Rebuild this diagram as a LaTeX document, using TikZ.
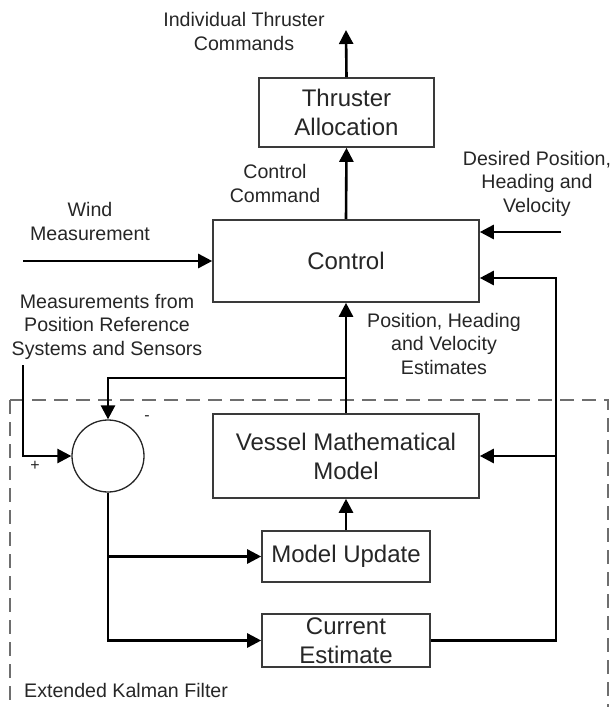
\documentclass[tikz,border=0pt]{standalone}
\usepackage{fontspec}
\setmainfont{Liberation Sans}
\usetikzlibrary{arrows.meta}
\definecolor{ink}{HTML}{262626}
\definecolor{frame}{HTML}{3A3A3A}
\definecolor{ekf}{HTML}{6E6E6E}
\tikzset{
  blockbox/.style={draw=frame, line width=1.6pt, fill=white, text=ink, align=center,
    inner sep=0pt, font=\fontsize{24}{29}\selectfont},
  sumnode/.style={draw=ink, line width=1.3pt, circle, minimum size=72pt, inner sep=0pt},
  label/.style={text=ink, align=center, inner sep=0pt, font=\fontsize{19.6}{23.5}\selectfont},
  sign/.style={text=ink, inner sep=0pt, font=\fontsize{16}{18}\selectfont},
  flow/.style={line width=2.6pt, draw=black},
  arr/.style={flow, -{Triangle[length=14pt,width=14pt]}},
  ekfbox/.style={draw=ekf, line width=1.5pt, dash pattern=on 14pt off 8pt}
}
\begin{document}
\begin{tikzpicture}[x=1pt, y=-1pt]
  \useasboundingbox (0,0) rectangle (611,707);
  \clip (0,0) rectangle (611,707);

  % Kalman filter region
  \draw[ekfbox] (10,400) -- (608,400) -- (608,730);
  \draw[ekfbox] (10,400) -- (10,730);
  \node[label, anchor=west] (ekflabel) at (24,690) {Extended Kalman Filter};

  % blocks
  \node[blockbox, minimum width=175pt, minimum height=69pt] (thr) at (346.5,112.5) {Thruster\\Allocation};
  \node[blockbox, minimum width=266pt, minimum height=82pt] (ctrl) at (346,261) {Control};
  \node[blockbox, minimum width=266pt, minimum height=84pt] (vmm) at (346,456) {Vessel Mathematical\\Model};
  \node[blockbox, minimum width=168pt, minimum height=51pt] (mu) at (346,556.5) {Model Update};
  \node[blockbox, minimum width=168pt, minimum height=53pt] (ce) at (346,640.5) {Current\\Estimate};
  \node[sumnode] (sum) at (108,456) {};

  % labels
  \node[label] (cmdout) at (244,31.5) {Individual Thruster\\Commands};
  \node[label] (ctrlcmd) at (275,183.5) {Control\\Command};
  \node[label] (wind) at (90,221.5) {Wind\\Measurement};
  \node[label] (desired) at (537,183.5) {Desired Position,\\Heading and\\Velocity};
  \node[label] (meas) at (107,326.5) {Measurements from\\Position Reference\\Systems and Sensors};
  \node[label] (est) at (444,343.5) {Position, Heading\\and Velocity\\Estimates};
  \node[sign] (minus) at (147,418) {-};
  \node[sign] (plus) at (35,466) {+};

  % free ends and junctions
  \coordinate (cmdtip) at (346,30);
  \coordinate (windsrc) at (23,261);
  \coordinate (desrc) at (561,232);
  \coordinate (meassrc) at (23,365);
  \coordinate (fbx) at (556,640.5);
  \coordinate (fbtop) at (556,278);
  \coordinate (fbmid) at (556,456);
  \coordinate (estsplit) at (346,378);

  % connectors
  \draw[arr] (thr.north) -- (cmdtip);
  \draw[arr] (ctrl.north) -- (thr.south);
  \draw[arr] (windsrc) -- (ctrl.west);
  \draw[arr] (desrc) -- (ctrl.east |- desrc);
  \draw[arr] (vmm.north) -- (ctrl.south);
  \draw[arr] (estsplit) -| (sum.north);
  \draw[arr] (meassrc) |- (sum.west);
  \draw[arr] (sum.south) |- (mu.west);
  \draw[arr] (sum.south) |- (ce.west);
  \draw[arr] (mu.north) -- (vmm.south);
  \draw[arr] (ce.east) -- (fbx) -- (fbtop) -- (ctrl.east |- fbtop);
  \draw[arr] (fbmid) -- (vmm.east);
\end{tikzpicture}
\end{document}
